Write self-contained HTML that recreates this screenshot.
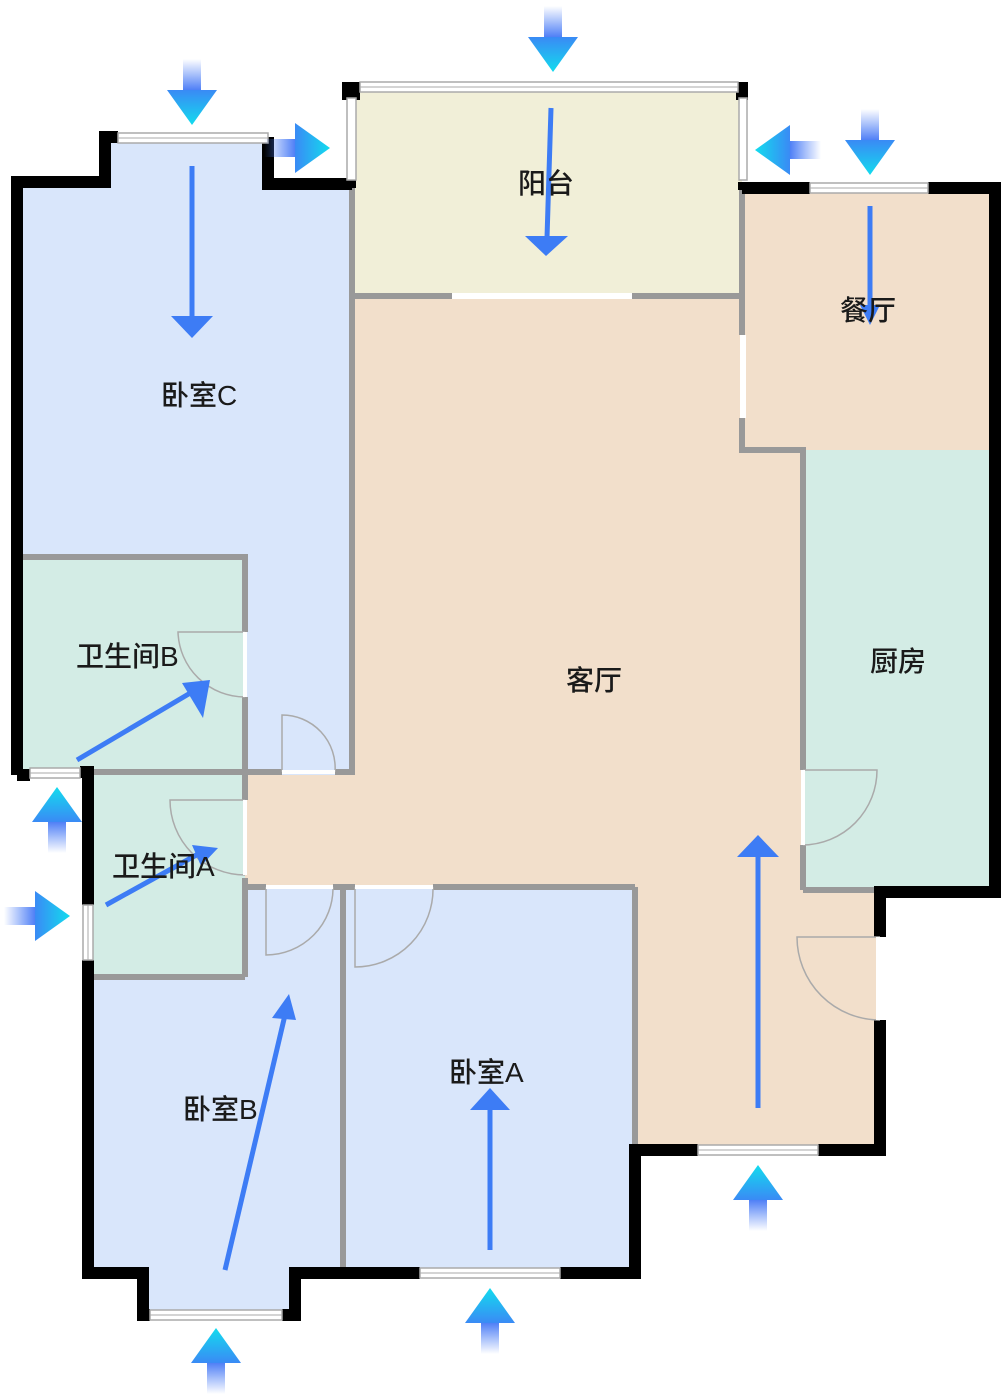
<!DOCTYPE html>
<html><head><meta charset="utf-8"><style>
html,body{margin:0;padding:0;background:#fff;}
svg{display:block}
text{font-family:"Liberation Sans","Noto Sans CJK SC",sans-serif;font-size:28px;fill:#1a1a1a;font-weight:500;}
</style></head><body>
<svg width="1006" height="1400" viewBox="0 0 1006 1400" xmlns="http://www.w3.org/2000/svg">
<defs>
<linearGradient id="sh" x1="0" y1="0" x2="0" y2="1">
<stop offset="0" stop-color="#4a7cf6" stop-opacity="0"/><stop offset="1" stop-color="#4a7cf6"/></linearGradient>
<linearGradient id="hd" x1="0" y1="0" x2="0" y2="1">
<stop offset="0" stop-color="#3a8af5"/><stop offset="1" stop-color="#12dcee"/></linearGradient>
<g id="ea"><rect x="-9" y="-66" width="18" height="32" fill="url(#sh)"/><polygon points="-25,-35 25,-35 0,0" fill="url(#hd)"/></g>
</defs>
<polygon points="22,188 110,188 110,143 268,143 268,188 352,188 352,775 22,775" fill="#d9e6fb"/>
<rect x="352" y="88" width="390" height="210" fill="#f1efd8"/>
<rect x="742" y="192" width="252" height="258" fill="#f2dfcb"/>
<polygon points="352,296 742,296 742,450 803,450 803,890 880,890 880,1148 638,1148 638,887 245,887 245,775 352,775" fill="#f2dfcb"/>
<rect x="803" y="450" width="191" height="440" fill="#d3ece5"/>
<rect x="22" y="557" width="223" height="215" fill="#d3ece5"/>
<rect x="92" y="772" width="153" height="205" fill="#d3ece5"/>
<rect x="245" y="887" width="98" height="90" fill="#d9e6fb"/>
<rect x="92" y="975" width="251" height="297" fill="#d9e6fb"/>
<rect x="143" y="1270" width="152" height="45" fill="#d9e6fb"/>
<rect x="343" y="887" width="292" height="385" fill="#d9e6fb"/>
<g stroke="#999" stroke-width="6" fill="none">
<line x1="352" y1="188" x2="352" y2="775"/>
<polyline points="352,296 452,296"/><polyline points="632,296 742,296 742,335"/>
<polyline points="742,418 742,450 803,450 803,770"/><line x1="803" y1="845" x2="803" y2="890"/>
<line x1="803" y1="890" x2="880" y2="890"/>
<polyline points="22,557 245,557 245,632"/><line x1="245" y1="697" x2="245" y2="800"/>
<line x1="245" y1="878" x2="245" y2="977"/>
<line x1="90" y1="772" x2="282" y2="772"/><line x1="335" y1="772" x2="352" y2="772"/>
<line x1="92" y1="977" x2="245" y2="977"/>
<line x1="245" y1="887" x2="266" y2="887"/><line x1="333" y1="887" x2="355" y2="887"/><line x1="433" y1="887" x2="635" y2="887"/>
<line x1="343" y1="887" x2="343" y2="1272"/>
<line x1="635" y1="887" x2="635" y2="1150"/>
<line x1="742" y1="190" x2="742" y2="296"/>
<line x1="352" y1="188" x2="352" y2="296"/>
</g>
<rect x="452" y="293" width="180" height="6" fill="#fff"/>
<rect x="740" y="335" width="6" height="83" fill="#fff"/>
<g stroke="#000" stroke-width="12" fill="none">
<polyline points="17,775 17,182 105,182 105,137 118,137"/>
<polyline points="268,137 268,184 352,184"/>
<polyline points="742,188 810,188"/><polyline points="928,188 995,188 995,892 880,892 880,937"/>
<polyline points="880,1020 880,1150 818,1150"/><polyline points="698,1150 635,1150 635,1273 560,1273"/>
<polyline points="420,1273 295,1273 295,1315 282,1315"/><polyline points="150,1315 143,1315 143,1273 88,1273 88,960"/>
<polyline points="88,905 88,772 80,772"/><line x1="17" y1="775" x2="30" y2="775"/>
</g>
<rect x="342" y="82" width="18" height="18" fill="#000"/><rect x="736" y="82" width="12" height="18" fill="#000"/>
<rect x="342" y="180" width="14" height="8" fill="#000"/><rect x="738" y="182" width="12" height="8" fill="#000"/>
<g fill="#fff" stroke="#aaa" stroke-width="1.5">
<rect x="118" y="133" width="150" height="10"/><rect x="360" y="82" width="378" height="10"/>
<rect x="347" y="98" width="9" height="82"/><rect x="739" y="98" width="8" height="82"/>
<rect x="810" y="183" width="118" height="10"/><rect x="30" y="768" width="50" height="10"/>
<rect x="83" y="905" width="10" height="55"/><rect x="698" y="1145" width="120" height="10"/>
<rect x="420" y="1268" width="140" height="10"/><rect x="150" y="1310" width="132" height="10"/>
</g>
<g stroke="#aaa" stroke-width="1"><line x1="118" y1="138" x2="268" y2="138"/><line x1="360" y1="87" x2="738" y2="87"/><line x1="810" y1="188" x2="928" y2="188"/><line x1="698" y1="1150" x2="818" y2="1150"/><line x1="420" y1="1273" x2="560" y2="1273"/><line x1="150" y1="1315" x2="282" y2="1315"/><line x1="30" y1="773" x2="80" y2="773"/><line x1="88" y1="905" x2="88" y2="960"/></g>
<g fill="none" stroke="#aaa" stroke-width="1.5">
<path d="M245,632 L178,632 A67,67 0 0 0 245,697"/>
<path d="M282,772 L282,715 A53,53 0 0 1 335,772"/>
<path d="M245,800 L170,800 A75,75 0 0 0 245,875"/>
<path d="M266,887 L266,955 A67,67 0 0 0 333,887"/>
<path d="M355,887 L355,967 A78,78 0 0 0 433,887"/>
<path d="M803,770 L877,770 A75,75 0 0 1 803,845"/>
<path d="M880,937 L797,937 A83,83 0 0 0 880,1020"/>
</g>
<g fill="#fff"><rect x="243" y="632" width="4" height="65"/><rect x="243" y="800" width="4" height="75"/><rect x="282" y="770" width="53" height="4"/><rect x="266" y="885" width="67" height="4"/><rect x="355" y="885" width="78" height="4"/><rect x="801" y="770" width="4" height="75"/><rect x="876" y="937" width="6" height="83"/></g>
<g stroke="#3d7cf5" stroke-width="5" fill="none">
<line x1="192" y1="166" x2="192" y2="318"/><line x1="551" y1="108" x2="547" y2="238"/>
<line x1="870" y1="206" x2="870" y2="318"/><line x1="77" y1="760" x2="192" y2="692"/>
<line x1="106" y1="905" x2="200" y2="853"/><line x1="225" y1="1270" x2="285" y2="1015"/>
<line x1="490" y1="1250" x2="490" y2="1105"/><line x1="758" y1="1108" x2="758" y2="855"/>
</g>
<g fill="#3d7cf5">
<polygon points="171,316 213,316 192,338"/><polygon points="525,236 568,236 546,256"/>
<polygon points="860,305 880,305 870,325"/>
<polygon points="182,683 210,680 203,718"/><polygon points="192,845 218,848 201,866"/>
<polygon points="272,1018 296,1020 289,994"/><polygon points="470,1110 510,1110 490,1088"/>
<polygon points="737,857 779,857 758,835"/>
</g>
<use href="#ea" transform="translate(192,125)"/>
<use href="#ea" transform="translate(330,148) rotate(-90)"/>
<use href="#ea" transform="translate(553,72)"/>
<use href="#ea" transform="translate(755,150) rotate(90)"/>
<use href="#ea" transform="translate(870,175)"/>
<use href="#ea" transform="translate(57,787) rotate(180)"/>
<use href="#ea" transform="translate(70,916) rotate(-90)"/>
<use href="#ea" transform="translate(758,1165) rotate(180)"/>
<use href="#ea" transform="translate(490,1288) rotate(180)"/>
<use href="#ea" transform="translate(216,1328) rotate(180)"/>
<text x="161" y="405">卧室C</text>
<text x="518" y="193">阳台</text>
<text x="840" y="320">餐厅</text>
<text x="76" y="666">卫生间B</text>
<text x="112" y="876">卫生间A</text>
<text x="566" y="690">客厅</text>
<text x="870" y="671">厨房</text>
<text x="183" y="1119">卧室B</text>
<text x="449" y="1082">卧室A</text>
</svg>
</body></html>
